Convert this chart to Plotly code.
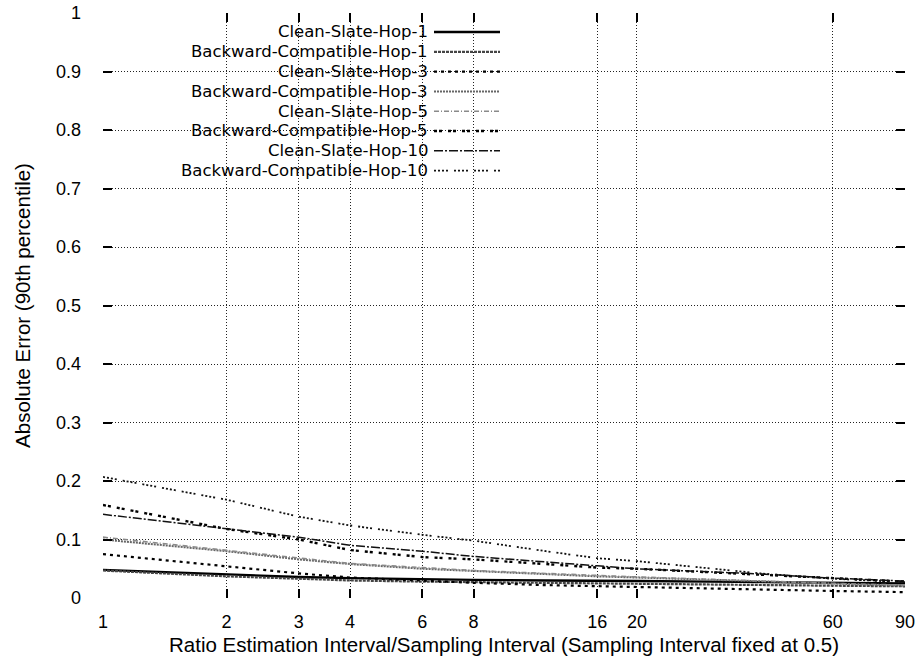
import plotly.graph_objects as go

# Ratio of estimation interval to sampling interval
ratio = [1, 2, 3, 4, 6, 8, 12, 16, 20, 30, 40, 60, 90]

cs_hop1 = [0.048, 0.040, 0.036, 0.034, 0.032, 0.031, 0.030, 0.030, 0.029, 0.028, 0.027, 0.026, 0.025]
bc_hop1 = [0.047, 0.037, 0.033, 0.030, 0.028, 0.027, 0.026, 0.025, 0.024, 0.023, 0.022, 0.021, 0.020]
cs_hop3 = [0.075, 0.054, 0.042, 0.035, 0.029, 0.026, 0.022, 0.020, 0.019, 0.016, 0.014, 0.012, 0.010]
bc_hop3 = [0.100, 0.080, 0.066, 0.058, 0.050, 0.046, 0.041, 0.037, 0.035, 0.031, 0.028, 0.024, 0.021]
cs_hop5 = [0.104, 0.082, 0.068, 0.059, 0.052, 0.047, 0.042, 0.038, 0.036, 0.032, 0.029, 0.025, 0.022]
bc_hop5 = [0.159, 0.118, 0.100, 0.082, 0.070, 0.066, 0.058, 0.052, 0.050, 0.044, 0.040, 0.033, 0.028]
cs_hop10 = [0.143, 0.118, 0.104, 0.090, 0.080, 0.071, 0.061, 0.055, 0.050, 0.045, 0.041, 0.034, 0.029]
bc_hop10 = [0.207, 0.168, 0.139, 0.124, 0.108, 0.098, 0.080, 0.068, 0.063, 0.050, 0.042, 0.033, 0.027]

series_names = [
    "Clean-Slate-Hop-1", "Backward-Compatible-Hop-1",
    "Clean-Slate-Hop-3", "Backward-Compatible-Hop-3",
    "Clean-Slate-Hop-5", "Backward-Compatible-Hop-5",
    "Clean-Slate-Hop-10", "Backward-Compatible-Hop-10",
]
series_values = [cs_hop1, bc_hop1, cs_hop3, bc_hop3, cs_hop5, bc_hop5, cs_hop10, bc_hop10]

x_tick_vals = [1, 2, 3, 4, 6, 8, 16, 20, 60, 90]
y_tick_vals = [round(0.1 * i, 1) for i in range(11)]

# line styles (color, width, dash) per series
styles = [
    ("#000000", 2.4, "solid"),
    ("#444444", 2.2, "3px,1px"),
    ("#000000", 2.2, "3px,4px"),
    ("#666666", 2.0, "2px,1px"),
    ("#8a8a8a", 1.6, "5px,2px,1px,2px"),
    ("#000000", 2.4, "3px,2px,3px,6px"),
    ("#111111", 1.5, "9px,2px,2px,2px"),
    ("#111111", 1.8, "2px,2px,2px,2px,2px,2px,2px,6px"),
]

FONT = "Liberation Sans, Arial, sans-serif"
KEY_FONT = "DejaVu Sans, Liberation Sans, sans-serif"

fig = go.Figure()
for name, vals, (col, w, dash) in zip(series_names, series_values, styles):
    fig.add_trace(go.Scatter(
        x=ratio, y=vals, mode="lines", name=name,
        line=dict(color=col, width=w, dash=dash),
        showlegend=False,
    ))

# Key drawn in the upper-left: right-aligned labels with line samples after them
L, R, T, B = 103, 15, 13, 67
W, H = 920, 665
pw, ph = W - L - R, H - T - B
text_right_px = 428
sample_x0_px, sample_x1_px = 434, 500
row0_px, row_step = 32, 19.8
for i, (name, (col, w, dash)) in enumerate(zip(series_names, styles)):
    py = row0_px + i * row_step
    yp = (T + ph - py) / ph
    fig.add_annotation(
        x=(text_right_px - L) / pw, y=yp, xref="paper", yref="paper",
        text=name, showarrow=False, xanchor="right", yanchor="middle",
        borderpad=0, xshift=1,
        font=dict(family=KEY_FONT, size=16.5, color="black"),
    )
    fig.add_shape(
        type="line", xref="paper", yref="paper",
        x0=(sample_x0_px - L) / pw, x1=(sample_x1_px - L) / pw, y0=yp, y1=yp,
        line=dict(color=col, width=w, dash=dash),
    )

axis_common = dict(
    showgrid=True, gridcolor="#222222", gridwidth=1, griddash="1px,2px",
    showline=False, zeroline=False, mirror="ticks", automargin=False,
    ticks="inside", ticklen=9, tickwidth=2, tickcolor="black",
    tickfont=dict(family=FONT, size=18, color="black"),
)

fig.update_xaxes(
    type="log", range=[0, 1.9542425],
    tickvals=x_tick_vals, ticktext=[str(v) for v in x_tick_vals],
    ticklabelstandoff=11,
    title=dict(text="Ratio Estimation Interval/Sampling Interval (Sampling Interval fixed at 0.5)",
               font=dict(family=FONT, size=20.5, color="black"), standoff=6),
    **axis_common,
)
fig.update_yaxes(
    range=[0, 1], tickvals=y_tick_vals,
    ticktext=["0" if v == 0 else ("1" if v == 1 else f"{v:.1f}") for v in y_tick_vals],
    ticklabelstandoff=21,
    title=dict(text="Absolute Error (90th percentile)",
               font=dict(family=FONT, size=20.5, color="black"), standoff=19),
    **axis_common,
)

fig.update_layout(
    width=W, height=H,
    margin=dict(l=L, r=R, t=T, b=B),
    plot_bgcolor="white", paper_bgcolor="white",
    font=dict(family=FONT, color="black"),
)

fig.write_html("out.html")
